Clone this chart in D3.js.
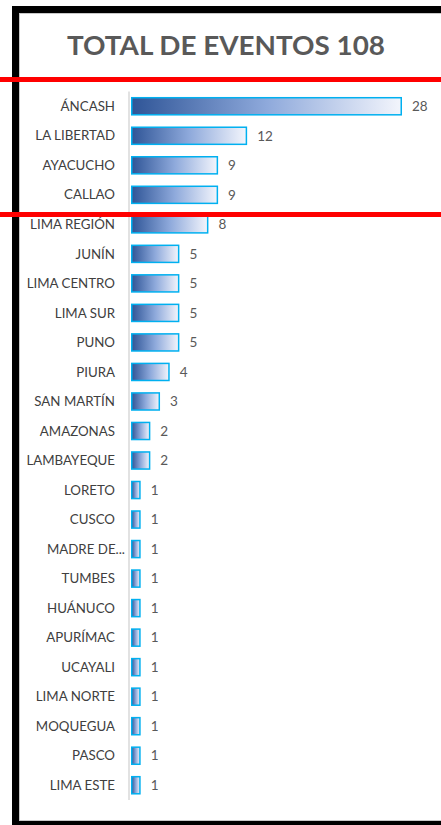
<!DOCTYPE html>
<html>
<head>
<meta charset="utf-8">
<script src="https://cdn.jsdelivr.net/npm/d3@7"></script>
<style>
  body { margin: 0; background: #fff; }
  text { font-family: Lato, "Open Sans", sans-serif; }
</style>
</head>
<body>
<script>
// datos del gráfico
const regiones = ["ÁNCASH", "LA LIBERTAD", "AYACUCHO", "CALLAO", "LIMA REGIÓN", "JUNÍN",
  "LIMA CENTRO", "LIMA SUR", "PUNO", "PIURA", "SAN MARTÍN", "AMAZONAS", "LAMBAYEQUE",
  "LORETO", "CUSCO", "MADRE DE...", "TUMBES", "HUÁNUCO", "APURÍMAC", "UCAYALI",
  "LIMA NORTE", "MOQUEGUA", "PASCO", "LIMA ESTE"];
const eventos = [28, 12, 9, 9, 8, 5, 5, 5, 5, 4, 3, 2, 2, 1, 1, 1, 1, 1, 1, 1, 1, 1, 1, 1];
const tituloBase = "TOTAL DE EVENTOS";

const width = 441;
const height = 825;

const data = regiones.map((r, i) => ({ region: r, valor: eventos[i] }));
const total = d3.sum(eventos);

const svg = d3.select('body').append('svg')
    .attr('width', width)
    .attr('height', height);

// gradiente de las barras
const grad = svg.append('defs').append('linearGradient')
    .attr('id', 'barGrad')
    .attr('x1', '0%').attr('x2', '100%')
    .attr('y1', '0%').attr('y2', '0%');
grad.append('stop').attr('offset', '0%').attr('stop-color', '#2F5597');
grad.append('stop').attr('offset', '50%').attr('stop-color', '#8EA9DB');
grad.append('stop').attr('offset', '100%').attr('stop-color', '#F3F5FC');

// marco negro
svg.append('rect').attr('x', 12).attr('y', 6).attr('width', 7).attr('height', height - 6).attr('fill', '#000');
svg.append('rect').attr('x', 12).attr('y', 6).attr('width', width - 12).attr('height', 7).attr('fill', '#000');
svg.append('rect').attr('x', 12).attr('y', 821).attr('width', width - 12).attr('height', 4).attr('fill', '#000');
svg.append('line').attr('x1', 19.5).attr('x2', 19.5).attr('y1', 13).attr('y2', 821)
    .attr('stroke', '#C8C8C8').attr('stroke-width', 1);
svg.append('line').attr('x1', 19).attr('x2', width).attr('y1', 13.5).attr('y2', 13.5)
    .attr('stroke', '#C8C8C8').attr('stroke-width', 1);
svg.append('line').attr('x1', 19).attr('x2', width).attr('y1', 820.5).attr('y2', 820.5)
    .attr('stroke', '#C8C8C8').attr('stroke-width', 1);

// título
svg.append('text')
    .attr('x', 226)
    .attr('y', 55)
    .attr('text-anchor', 'middle')
    .attr('textLength', 318)
    .attr('lengthAdjust', 'spacingAndGlyphs')
    .style('font-size', '27px')
    .style('font-weight', 'bold')
    .style('fill', '#595959')
    .text(`${tituloBase} ${total}`);

// escalas
const xScale = d3.scaleLinear()
    .domain([0, 28])
    .range([131, 402]);

const yScale = d3.scaleBand()
    .domain(regiones)
    .range([91.5, 800])
    .paddingInner(0.37)
    .paddingOuter(0.185);

// eje vertical
svg.append('line')
    .attr('x1', 129).attr('x2', 129)
    .attr('y1', 91.5).attr('y2', 800)
    .attr('stroke', '#D9D9D9')
    .attr('stroke-width', 1.5);

// barras
svg.selectAll('.bar')
    .data(data)
    .enter().append('rect')
    .attr('class', 'bar')
    .attr('x', xScale(0) + 0.75)
    .attr('y', d => yScale(d.region) + 0.75)
    .attr('width', d => xScale(d.valor) - xScale(0) - 1.5)
    .attr('height', yScale.bandwidth() - 1.5)
    .attr('fill', 'url(#barGrad)')
    .attr('stroke', '#00B0F0')
    .attr('stroke-width', 1.5);

// etiquetas de categoría
svg.selectAll('.label')
    .data(data)
    .enter().append('text')
    .attr('class', 'label')
    .attr('x', d => d.region.endsWith('...') ? 125 : 115)
    .attr('y', d => yScale(d.region) + yScale.bandwidth() / 2)
    .attr('dy', '0.35em')
    .attr('text-anchor', 'end')
    .style('font-size', '13.3px')
    .style('fill', '#404040')
    .text(d => d.region);

// valores
svg.selectAll('.value')
    .data(data)
    .enter().append('text')
    .attr('class', 'value')
    .attr('x', d => xScale(d.valor) + 10)
    .attr('y', d => yScale(d.region) + yScale.bandwidth() / 2)
    .attr('dy', '0.35em')
    .style('font-size', '13.5px')
    .style('fill', '#595959')
    .text(d => d.valor);

// líneas rojas
svg.append('rect').attr('x', 0).attr('y', 77).attr('width', width).attr('height', 5).attr('fill', '#FF0000');
svg.append('rect').attr('x', 0).attr('y', 212).attr('width', width).attr('height', 5).attr('fill', '#FF0000');
</script>
</body>
</html>
